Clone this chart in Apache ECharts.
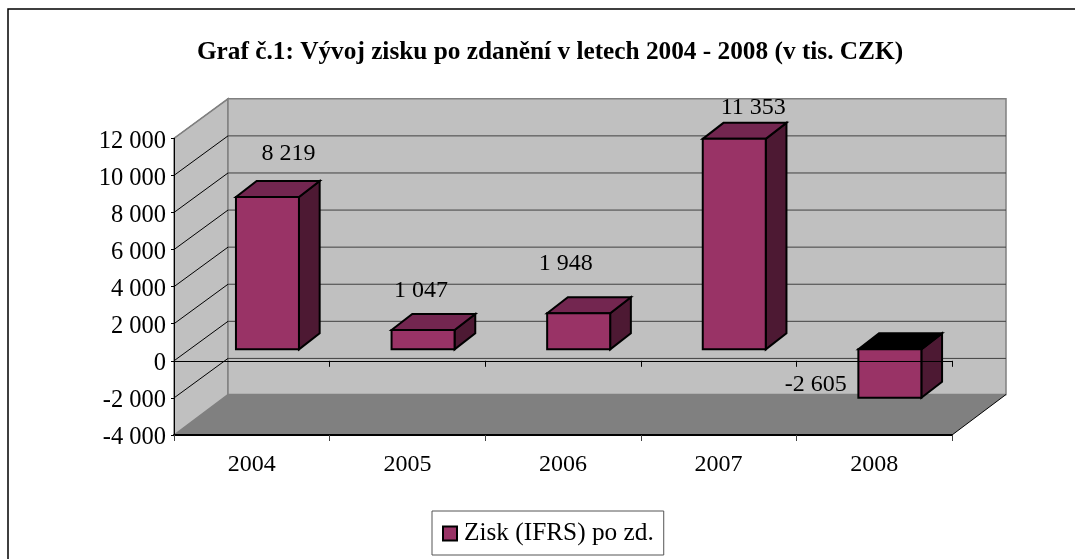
<!DOCTYPE html>
<html>
<head>
<meta charset="utf-8">
<script src="https://cdn.jsdelivr.net/npm/echarts@6/dist/echarts.min.js"></script>
<style>
  html, body { margin: 0; padding: 0; background: #fff; }
  #main { width: 1075px; height: 559px; }
</style>
</head>
<body>
<div id="main"></div>
<script>
  var chartTitle = 'Graf č.1: Vývoj zisku po zdanění v letech 2004 - 2008 (v tis. CZK)';
  var seriesName = 'Zisk (IFRS) po zd.';
  var years = ['2004', '2005', '2006', '2007', '2008'];
  var zisk = [8219, 1047, 1948, 11353, -2605];
  var yTicks = [-4000, -2000, 0, 2000, 4000, 6000, 8000, 10000, 12000];

  // hloubka grafu v pixelech
  var depthX = 54, depthY = -39.5;
  // sloupec stoji kousek za prednim okrajem
  var barT = 0.29, barDepthX = 20.7, barDepthY = -16, barWidth = 63;
  // popisky jsou v originale rucne posunute
  var labelNudge = [[21, -43], [-2, -39], [-13, -50], [19, -31], [-74, -13]];

  var font = '"Liberation Serif", "Times New Roman", serif';

  function fmt (v) {
    var s = String(Math.abs(v)).replace(/\B(?=(\d{3})+$)/g, ' ');
    return (v < 0 ? '-' : '') + s;
  }

  function poly (points, fill, stroke, width) {
    return {
      type: 'polygon',
      shape: { points: points },
      style: { fill: fill, stroke: stroke, lineWidth: width || 1, lineJoin: 'miter' }
    };
  }

  function line (x1, y1, x2, y2, color, width) {
    return {
      type: 'line',
      shape: { x1: x1, y1: y1, x2: x2, y2: y2 },
      style: { stroke: color, lineWidth: width || 1 }
    };
  }

  // steny, podlaha a mrizka
  function renderWalls (params, api) {
    var cs = params.coordSys;
    var left = cs.x, right = cs.x + cs.width;
    var top = cs.y, bottom = cs.y + cs.height;
    var dx = depthX, dy = depthY;
    var kids = [
      poly([[left, top], [left + dx, top + dy], [left + dx, bottom + dy - 1], [left, bottom]], '#c0c0c0', '#808080', 1.5),
      poly([[left + dx, top + dy], [right + dx, top + dy], [right + dx, bottom + dy - 1], [left + dx, bottom + dy - 1]], '#c0c0c0', '#808080', 1.5),
      poly([[left, bottom], [left + dx, bottom + dy - 1], [right + dx, bottom + dy - 1], [right, bottom]], '#808080', null)
    ];
    yTicks.forEach(function (t) {
      var y = api.coord([0, t])[1];
      if (t > yTicks[0] && t < yTicks[yTicks.length - 1]) {
        kids.push(line(left + dx, y + dy, right + dx, y + dy, '#404040', 1));
      }
      if (t > yTicks[0]) {
        kids.push(line(left, y, left + dx, y + dy, t === yTicks[yTicks.length - 1] ? '#808080' : '#000', 1));
      }
    });
    kids.push(line(right, bottom, right + dx, bottom + dy - 1, '#000', 1));
    return { type: 'group', children: kids };
  }

  function renderBar (params, api) {
    var i = api.value(0), v = api.value(1);
    var base = api.coord([i, 0]);
    var head = api.coord([i, v]);
    var sx = depthX * barT, sy = depthY * barT;
    var x1 = base[0] + sx - barWidth / 2, x2 = x1 + barWidth;
    var yBase = base[1] + sy, yHead = head[1] + sy;
    var yTop = Math.min(yBase, yHead), yBot = Math.max(yBase, yHead);
    var ddx = barDepthX, ddy = barDepthY;
    var k = '#000';
    var nudge = labelNudge[i];
    var lx = base[0] + sx + nudge[0];
    var ly = (v < 0 ? yBot : yTop) + nudge[1];
    return {
      type: 'group',
      children: [
        poly([[x2, yTop], [x2 + ddx, yTop + ddy], [x2 + ddx, yBot + ddy], [x2, yBot]], '#4d1933', k, 2),
        poly([[x1, yTop], [x1 + ddx, yTop + ddy], [x2 + ddx, yTop + ddy], [x2, yTop]], v < 0 ? '#000' : '#732650', k, 2),
        poly([[x1, yTop], [x2, yTop], [x2, yBot], [x1, yBot]], '#993366', k, 2),
        {
          type: 'text',
          style: {
            text: fmt(v), x: lx, y: ly, align: 'center', verticalAlign: 'middle',
            fill: '#000', font: '24px ' + font
          }
        }
      ]
    };
  }

  var myChart = echarts.init(document.getElementById('main'));
  var option = {
    animation: false,
    backgroundColor: '#fff',
    graphic: [{
      type: 'rect',
      shape: { x: 8, y: 9, width: 1200, height: 700 },
      style: { fill: '#fff', stroke: '#000', lineWidth: 1.5 },
      z: -10
    }],
    title: {
      text: chartTitle,
      left: 545,
      top: 35,
      textAlign: 'center',
      textStyle: { fontFamily: font, fontSize: 25.3, fontWeight: 'bold', color: '#000' }
    },
    legend: {
      data: [seriesName],
      left: 432,
      top: 511,
      orient: 'horizontal',
      backgroundColor: '#fff',
      borderColor: '#555',
      borderWidth: 1,
      borderRadius: 0,
      padding: [10, 10, 9, 10],
      itemWidth: 14,
      itemHeight: 14,
      itemGap: 0,
      icon: 'rect',
      itemStyle: { color: '#993366', borderColor: '#000', borderWidth: 2 },
      textStyle: { fontFamily: font, fontSize: 25.3, color: '#000', padding: [0, 0, 0, 2] }
    },
    grid: { left: 174, right: 123, top: 138.3, bottom: 124 },
    xAxis: [
      {
        type: 'category',
        data: years,
        position: 'bottom',
        axisLine: { onZero: false, lineStyle: { color: '#000', width: 2 } },
        axisTick: { show: true, length: 6, lineStyle: { color: '#404040', width: 1 } },
        axisLabel: { fontFamily: font, fontSize: 24, color: '#000', margin: 18 },
        splitLine: { show: false },
        z: 5
      },
      {
        type: 'category',
        data: years,
        position: 'bottom',
        axisLine: { onZero: true, lineStyle: { color: '#000', width: 1 } },
        axisTick: { show: true, length: 6, lineStyle: { color: '#000', width: 1 } },
        axisLabel: { show: false },
        splitLine: { show: false },
        z: 20
      }
    ],
    yAxis: {
      type: 'value',
      min: -4000,
      max: 12000,
      interval: 2000,
      axisLine: { show: true, onZero: false, lineStyle: { color: '#000', width: 1 } },
      axisTick: { show: true, length: 3, lineStyle: { color: '#000', width: 1 } },
      axisLabel: { fontFamily: font, fontSize: 24.5, color: '#000', margin: 8, verticalAlign: 'top', lineHeight: 6, formatter: fmt },
      splitLine: { show: false },
      z: 5
    },
    series: [
      {
        type: 'custom',
        silent: true,
        renderItem: renderWalls,
        data: [[0, 0]],
        encode: { x: 0, y: 1 },
        z: 1
      },
      {
        name: seriesName,
        type: 'custom',
        renderItem: renderBar,
        itemStyle: { color: '#993366' },
        data: zisk.map(function (v, i) { return [i, v]; }),
        encode: { x: 0, y: 1 },
        z: 10
      }
    ]
  };
  myChart.setOption(option);
</script>
</body>
</html>
